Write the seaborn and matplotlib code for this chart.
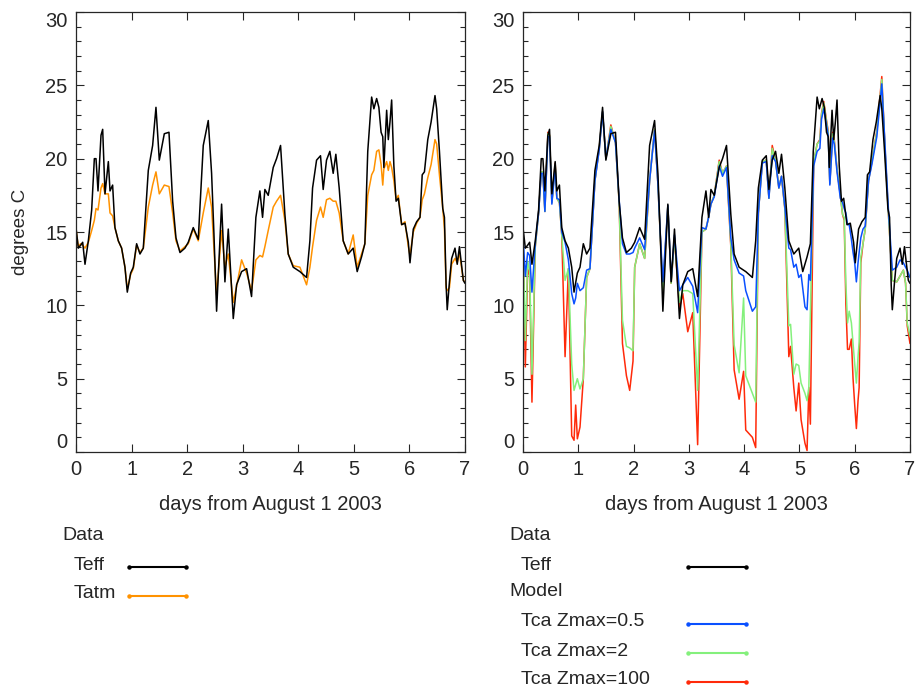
import numpy as np
import pandas as pd
import matplotlib
matplotlib.use("Agg")
import matplotlib.pyplot as plt
import seaborn as sns
from matplotlib.lines import Line2D

# observed series (days from August 1 2003, degrees C)
days = [0.000, 0.042, 0.084, 0.120, 0.162, 0.222, 0.282, 0.330, 0.360, 0.396,
        0.450, 0.480, 0.522, 0.582, 0.612, 0.659, 0.701, 0.761, 0.821, 0.881,
        0.923, 0.983, 1.031, 1.091, 1.151, 1.211, 1.301, 1.379, 1.439, 1.499,
        1.589, 1.673, 1.739, 1.799, 1.871, 1.960, 2.020, 2.110, 2.200, 2.290,
        2.380, 2.440, 2.482, 2.530, 2.620, 2.680, 2.740, 2.830, 2.890, 2.980,
        3.070, 3.159, 3.237, 3.309, 3.357, 3.399, 3.459, 3.549, 3.609, 3.681,
        3.759, 3.819, 3.909, 4.029, 4.149, 4.209, 4.257, 4.329, 4.400, 4.448,
        4.508, 4.568, 4.628, 4.676, 4.736, 4.808, 4.898, 4.988, 5.060, 5.138,
        5.198, 5.250, 5.320, 5.360, 5.410, 5.450, 5.490, 5.520, 5.540, 5.590,
        5.620, 5.650, 5.680, 5.720, 5.760, 5.800, 5.860, 5.920, 5.980, 6.010,
        6.070, 6.130, 6.190, 6.230, 6.270, 6.330, 6.390, 6.460, 6.490, 6.540,
        6.600, 6.630, 6.660, 6.680, 6.720, 6.760, 6.820, 6.860, 6.900, 6.930,
        6.970, 7.000]
teff = [15.3, 13.9, 14.1, 14.3, 12.8, 14.4, 16.5, 20.0, 20.0, 17.8,
        21.6, 22.0, 17.6, 19.8, 17.8, 18.2, 15.3, 14.4, 13.9, 12.6,
        10.9, 12.2, 12.6, 14.2, 13.5, 13.9, 19.2, 20.9, 23.5, 19.9,
        21.7, 21.8, 17.1, 14.6, 13.6, 13.9, 14.3, 15.3, 14.5, 20.9,
        22.6, 19.0, 14.9, 9.6, 16.9, 11.6, 15.2, 9.1, 11.4, 12.3,
        12.5, 10.6, 16.0, 17.8, 16.0, 17.9, 17.5, 19.4, 20.0, 20.9,
        16.2, 13.5, 12.6, 12.3, 11.9, 14.4, 18.0, 19.9, 20.2, 17.9,
        19.9, 20.5, 19.0, 20.3, 18.0, 14.4, 13.5, 13.9, 12.3, 13.3,
        14.2, 20.5, 24.2, 23.4, 24.1, 23.5, 21.8, 21.5, 19.4, 23.3,
        21.3, 22.5, 24.0, 19.5, 17.1, 17.3, 15.5, 15.6, 14.3, 12.9,
        15.2, 15.7, 16.0, 18.9, 19.1, 21.3, 22.5, 24.3, 23.4, 20.5,
        16.6, 16.0, 11.4, 9.7, 11.6, 13.2, 13.9, 12.8, 14.0, 13.0,
        11.7, 11.5]
tatm = [15.2, 14.0, 14.2, 14.1, 13.9, 14.3, 15.1, 15.8, 16.6, 16.5,
        18.0, 18.3, 17.6, 17.6, 16.3, 16.1, 15.3, 14.4, 13.9, 12.6,
        11.1, 12.1, 12.5, 14.1, 13.6, 13.9, 16.7, 18.2, 19.1, 17.6,
        18.2, 18.1, 16.3, 14.4, 13.7, 14.0, 14.2, 15.2, 14.4, 16.3,
        18.0, 16.7, 13.9, 10.7, 15.1, 12.6, 13.5, 10.2, 11.3, 13.1,
        12.2, 11.0, 13.1, 13.4, 13.3, 14.0, 15.1, 16.7, 17.1, 17.5,
        15.8, 13.5, 12.7, 12.6, 11.4, 12.6, 14.0, 15.8, 16.7, 16.0,
        17.2, 17.3, 17.1, 17.1, 16.3, 14.4, 13.5, 14.8, 12.6, 13.5,
        14.2, 17.5, 18.9, 19.2, 20.5, 20.6, 19.6, 18.2, 19.3, 19.8,
        19.2, 19.8, 19.4, 18.5, 17.2, 17.5, 15.5, 15.7, 14.0, 13.4,
        15.0, 15.6, 16.0, 17.2, 17.6, 18.7, 19.6, 21.3, 21.0, 18.9,
        16.6, 15.2, 11.2, 11.0, 11.2, 12.8, 13.2, 12.9, 13.6, 12.8,
        11.7, 11.6]

# model series
model_days = [0.000, 0.042, 0.084, 0.120, 0.162, 0.222, 0.282, 0.330, 0.360, 0.396,
              0.450, 0.480, 0.522, 0.582, 0.612, 0.659, 0.701, 0.761, 0.821, 0.881,
              0.923, 0.953, 0.983, 1.031, 1.091, 1.151, 1.211, 1.301, 1.379, 1.439,
              1.499, 1.589, 1.673, 1.739, 1.799, 1.871, 1.930, 1.990, 2.020, 2.110,
              2.200, 2.290, 2.380, 2.440, 2.482, 2.530, 2.620, 2.680, 2.740, 2.830,
              2.890, 2.980, 3.070, 3.159, 3.237, 3.309, 3.357, 3.399, 3.459, 3.549,
              3.609, 3.681, 3.759, 3.819, 3.909, 3.990, 4.029, 4.149, 4.209, 4.257,
              4.329, 4.400, 4.448, 4.508, 4.568, 4.628, 4.676, 4.736, 4.808, 4.840,
              4.898, 4.940, 4.988, 5.030, 5.100, 5.138, 5.170, 5.198, 5.258, 5.320,
              5.370, 5.400, 5.440, 5.490, 5.520, 5.550, 5.600, 5.630, 5.680, 5.740,
              5.780, 5.810, 5.840, 5.870, 5.900, 5.940, 5.970, 6.000, 6.030, 6.060,
              6.080, 6.110, 6.150, 6.190, 6.250, 6.310, 6.400, 6.490, 6.550, 6.610,
              6.680, 6.760, 6.820, 6.880, 6.920, 6.950, 7.000]
tca_05 = [14.8, 12.0, 13.6, 13.4, 10.9, 14.2, 16.3, 19.0, 19.0, 16.4,
          21.5, 21.5, 16.9, 19.4, 17.3, 17.2, 15.0, 14.3, 13.1, 10.8,
          10.1, 10.5, 11.5, 11.0, 11.2, 12.4, 12.5, 18.5, 20.6, 23.2,
          20.0, 22.0, 21.1, 17.2, 14.2, 13.5, 13.5, 13.6, 13.9, 14.6,
          13.8, 18.5, 21.9, 18.3, 15.0, 11.6, 16.8, 11.7, 14.8, 11.0,
          11.4, 11.9, 11.3, 9.5, 15.3, 15.2, 16.0, 16.9, 17.4, 19.5,
          18.8, 19.4, 14.6, 13.1, 12.2, 12.0, 11.0, 9.6, 9.9, 16.3,
          19.7, 19.8, 17.3, 20.2, 19.8, 18.0, 18.8, 16.7, 13.9, 13.8,
          12.6, 12.8, 11.9, 12.1, 9.9, 9.7, 12.1, 11.7, 19.5, 20.5,
          20.7, 22.7, 23.4, 22.3, 21.6, 18.2, 21.4, 21.0, 19.1, 17.3,
          17.0, 16.6, 16.3, 15.5, 15.5, 14.5, 13.6, 12.9, 11.6, 12.9,
          13.6, 14.6, 15.2, 15.4, 18.5, 19.6, 21.5, 25.1, 20.8, 16.5,
          12.4, 12.6, 13.1, 12.9, 12.6, 12.4, 11.9]
tca_2 = [14.6, 7.6, 13.0, 12.4, 5.3, 14.0, 16.3, 19.1, 19.1, 16.4,
         21.7, 21.6, 17.0, 19.6, 17.3, 17.0, 14.8, 11.7, 12.5, 6.0,
         4.2, 4.6, 5.0, 4.3, 5.0, 11.9, 12.5, 18.5, 20.7, 23.2,
         20.0, 22.2, 21.1, 17.0, 9.0, 7.2, 7.1, 6.9, 12.6, 14.2,
         13.2, 18.5, 22.0, 18.3, 14.8, 11.0, 16.8, 11.5, 14.6, 10.2,
         11.0, 11.0, 10.8, 4.2, 15.0, 15.2, 16.0, 16.9, 17.5, 19.8,
         19.0, 19.5, 14.2, 7.3, 5.4, 10.5, 5.2, 4.0, 3.4, 16.3,
         19.8, 19.9, 17.3, 20.7, 19.9, 18.0, 18.8, 16.6, 8.6, 8.7,
         5.3, 6.0, 5.9, 4.7, 4.0, 3.5, 4.4, 9.5, 19.8, 21.0,
         21.2, 23.0, 23.8, 22.5, 21.8, 18.3, 21.7, 21.2, 19.3, 17.5,
         16.2, 16.0, 11.5, 8.8, 9.6, 8.8, 7.4, 6.0, 4.7, 6.5,
         7.5, 13.3, 14.2, 15.2, 18.5, 19.8, 21.8, 25.4, 20.5, 16.2,
         11.7, 11.6, 12.0, 12.4, 11.5, 8.8, 7.9]
tca_100 = [14.6, 5.8, 12.5, 12.0, 3.4, 14.0, 16.3, 19.1, 19.1, 16.4,
           21.8, 21.6, 17.0, 19.7, 17.3, 17.0, 14.8, 6.5, 12.5, 1.1,
           0.8, 3.2, 0.9, 1.7, 5.0, 11.9, 12.5, 18.5, 20.7, 23.2,
           20.0, 22.3, 21.1, 17.0, 7.4, 5.2, 4.2, 6.2, 12.6, 14.2,
           13.2, 18.5, 22.0, 18.3, 14.8, 11.0, 16.8, 11.5, 14.6, 9.8,
           10.8, 8.2, 9.5, 0.5, 15.0, 15.2, 16.0, 16.9, 17.5, 19.9,
           19.0, 19.5, 14.0, 5.6, 3.6, 5.5, 1.5, 1.0, 0.3, 16.3,
           19.8, 19.9, 17.3, 20.9, 19.9, 18.0, 18.8, 16.6, 6.5, 7.2,
           4.4, 2.8, 4.7, 2.2, 0.6, 0.1, 4.4, 1.9, 19.8, 21.0,
           21.3, 23.1, 23.9, 22.6, 21.9, 18.3, 21.8, 21.3, 19.3, 17.5,
           16.2, 15.8, 10.1, 7.0, 7.0, 7.7, 5.0, 3.2, 1.6, 3.5,
           4.4, 12.9, 14.2, 15.2, 18.5, 19.8, 21.9, 25.6, 20.5, 16.2,
           11.7, 11.6, 12.0, 12.4, 11.5, 8.6, 7.4]

obs = pd.DataFrame({"day": days, "Teff": teff, "Tatm": tatm})
model = pd.DataFrame({"day": model_days, "Zmax=0.5": tca_05,
                      "Zmax=2": tca_2, "Zmax=100": tca_100})

c_black = "black"
c_orange = "#ff9200"
c_blue = "#0a50ff"
c_green = "#84f07c"
c_red = "#ff2a0a"

sns.set_style("ticks")
plt.rcParams["font.family"] = ["Liberation Sans", "DejaVu Sans"]
plt.rcParams["font.size"] = 13

fig = plt.figure(figsize=(9.19, 6.92), dpi=100)
ax1 = fig.add_axes([76 / 919, 1 - 452 / 692, 389 / 919, 440 / 692])
ax2 = fig.add_axes([523 / 919, 1 - 452 / 692, 387 / 919, 440 / 692])

lw = 1.1
sns.lineplot(data=obs, x="day", y="Tatm", ax=ax1, color=c_orange, lw=lw, estimator=None)
sns.lineplot(data=obs, x="day", y="Teff", ax=ax1, color=c_black, lw=lw, estimator=None)

sns.lineplot(data=model, x="day", y="Zmax=100", ax=ax2, color=c_red, lw=lw, estimator=None)
sns.lineplot(data=model, x="day", y="Zmax=2", ax=ax2, color=c_green, lw=lw, estimator=None)
sns.lineplot(data=model, x="day", y="Zmax=0.5", ax=ax2, color=c_blue, lw=lw, estimator=None)
sns.lineplot(data=obs, x="day", y="Teff", ax=ax2, color=c_black, lw=lw, estimator=None)

for ax in (ax1, ax2):
    ax.set_xlim(0, 7)
    ax.set_ylim(0, 30)
    ax.set_xticks(range(0, 8))
    ax.set_yticks(range(0, 31, 5))
    ax.set_yticks(range(0, 31), minor=True)
    ax.tick_params(direction="in", top=True, right=True, length=6, width=0.8,
                   labelsize=14.5, pad=6)
    ax.tick_params(which="minor", direction="in", left=True, right=True,
                   length=3.5, width=0.8)
    ax.tick_params(axis="x", which="minor", bottom=False, top=False)
    for s in ax.spines.values():
        s.set_linewidth(0.9)
    ax.set_xlabel("days from August 1 2003", fontsize=14.5, labelpad=11)
    ax.set_ylabel("")
    yt = ax.yaxis.get_major_ticks()
    yt[0].label1.set_va("bottom")
    yt[-1].label1.set_va("top")

ax1.set_ylabel("degrees C", fontsize=13.5, labelpad=12)


def legend_row(x_text, y_text, label, x0=None, x1=None, color=None):
    fig.text(x_text / 919, 1 - y_text / 692, label, fontsize=14, va="center", ha="left")
    if color is not None:
        yl = 1 - (y_text + 2) / 692
        fig.add_artist(Line2D([x0 / 919, x1 / 919], [yl, yl], color=color, lw=1.5,
                              marker="o", markersize=2.2, transform=fig.transFigure))


legend_row(62, 535, "Data")
legend_row(74, 565, "Teff", 129, 186, c_black)
legend_row(74, 594, "Tatm", 129, 186, c_orange)

legend_row(509, 535, "Data")
legend_row(521, 565, "Teff", 688, 746, c_black)
legend_row(509, 592, "Model")
legend_row(521, 622, "Tca Zmax=0.5", 688, 746, c_blue)
legend_row(521, 651, "Tca Zmax=2", 688, 746, c_green)
legend_row(521, 680, "Tca Zmax=100", 688, 746, c_red)

fig.savefig("out.png", dpi=100)
